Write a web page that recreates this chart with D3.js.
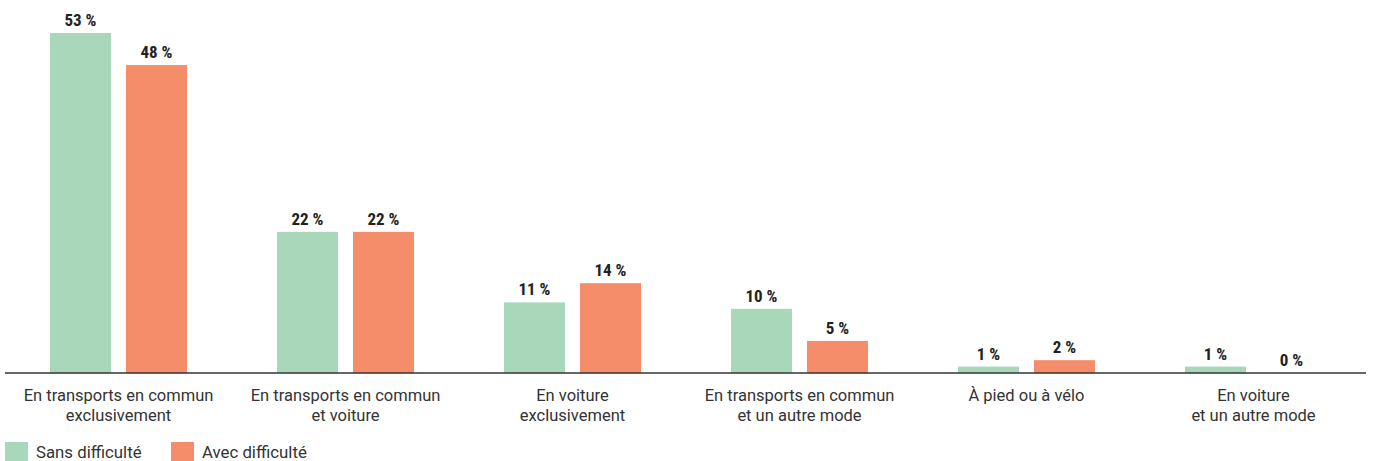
<!DOCTYPE html>
<html>
<head>
<meta charset="utf-8">
<script src="https://cdn.jsdelivr.net/npm/d3@7"></script>
<style>
  body { margin: 0; background: #fff; }
  svg text { font-family: Roboto, "Noto Sans", sans-serif; }
</style>
</head>
<body>
<div id="chart"></div>
<script>
// Categories (two lines each) and series values, in %
const categories = [
    ['En transports en commun', 'exclusivement'],
    ['En transports en commun', 'et voiture'],
    ['En voiture', 'exclusivement'],
    ['En transports en commun', 'et un autre mode'],
    ['À pied ou à vélo'],
    ['En voiture', 'et un autre mode']
];
const seriesNames = ['Sans difficulté', 'Avec difficulté'];
const sansDifficulte = [53, 22, 11, 10, 1, 1];
const avecDifficulte = [48, 22, 14, 5, 2, 0];
const colors = ['#a8d7ba', '#f68d6a'];

const width = 1373, height = 461;
const baseY = 373;

const svg = d3.select('#chart').append('svg')
    .attr('width', width)
    .attr('height', height);

const x0 = d3.scaleBand()
    .domain(d3.range(categories.length))
    .range([5, 1367])
    .paddingInner(0)
    .paddingOuter(0);

// 61px bars, 15px gap, inside a 227px band
const x1 = d3.scaleBand()
    .domain([0, 1])
    .range([45, 182])
    .paddingInner(15 / 76)
    .paddingOuter(0);

const y = d3.scaleLinear()
    .domain([0, 53])
    .range([baseY, 33]);

const rows = categories.map((c, i) => ({
    i,
    values: [sansDifficulte[i], avecDifficulte[i]]
}));

const group = svg.append('g')
    .selectAll('g')
    .data(rows)
    .enter().append('g')
    .attr('transform', d => `translate(${x0(d.i)},0)`);

group.selectAll('rect')
    .data(d => d.values.map((v, k) => ({ v, k })))
    .enter().append('rect')
    .attr('x', d => x1(d.k))
    .attr('width', x1.bandwidth())
    .attr('y', d => y(d.v))
    .attr('height', d => baseY - y(d.v))
    .attr('fill', d => colors[d.k]);

group.selectAll('text.value')
    .data(d => d.values.map((v, k) => ({ v, k })))
    .enter().append('text')
    .attr('class', 'value')
    .attr('x', d => x1(d.k) + x1.bandwidth() / 2)
    .attr('y', d => y(d.v) - 7)
    .attr('text-anchor', 'middle')
    .style('font-family', '"Roboto Condensed", "Liberation Sans Narrow", Roboto, sans-serif')
    .style('font-weight', 'bold')
    .style('font-size', '17px')
    .style('fill', '#222')
    .text(d => `${d.v} %`);

// Axis line
svg.append('line')
    .attr('x1', 5)
    .attr('x2', 1366)
    .attr('y1', baseY)
    .attr('y2', baseY)
    .attr('stroke', '#333')
    .attr('stroke-width', 1.5);

// Category labels
const labels = svg.append('g')
    .selectAll('text')
    .data(categories)
    .enter().append('text')
    .attr('x', (d, i) => x0(i) + x0.bandwidth() / 2)
    .attr('y', 401)
    .attr('text-anchor', 'middle')
    .style('font-size', '16.5px')
    .style('fill', '#333');

labels.selectAll('tspan')
    .data(d => d)
    .enter().append('tspan')
    .attr('x', function () { return d3.select(this.parentNode).attr('x'); })
    .attr('dy', (d, i) => i === 0 ? 0 : 20)
    .text(d => d);

// Legend
const legend = svg.append('g')
    .selectAll('g')
    .data(seriesNames)
    .enter().append('g')
    .attr('transform', (d, i) => `translate(${5 + i * 166},442)`);

legend.append('rect')
    .attr('width', 23)
    .attr('height', 19)
    .attr('fill', (d, i) => colors[i]);

legend.append('text')
    .attr('x', 31)
    .attr('y', 16)
    .style('font-size', '16.8px')
    .style('fill', '#333')
    .text(d => d);
</script>
</body>
</html>
